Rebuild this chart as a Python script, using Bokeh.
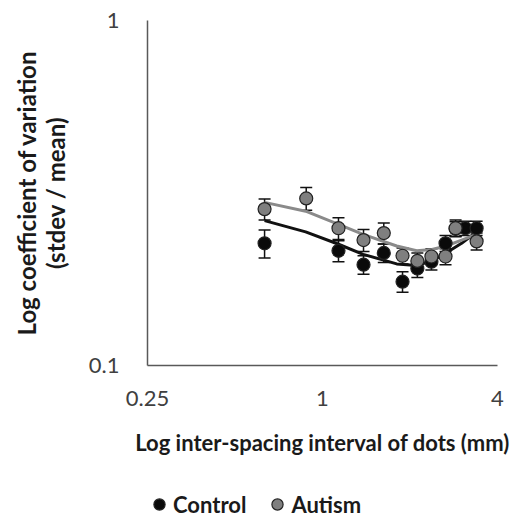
from bokeh.plotting import figure
from bokeh.layouts import column
from bokeh.models import ColumnDataSource, Whisker, Legend, LegendItem, FixedTicker, Range1d
from bokeh.embed import file_html
from bokeh.resources import INLINE

# ---- data ----
autism_x = [0.632, 0.879, 1.135, 1.384, 1.625, 1.885, 2.12, 2.37, 2.65, 2.87, 3.39]
autism_y = [0.284, 0.305, 0.250, 0.231, 0.242, 0.208, 0.201, 0.207, 0.207, 0.250, 0.229]
autism_err = [0.020, 0.023, 0.018, 0.017, 0.017, 0.011, 0.011, 0.011, 0.011, 0.014, 0.013]

control_x = [0.632, 1.135, 1.384, 1.625, 1.885, 2.12, 2.37, 2.65, 2.87, 3.10, 3.39]
control_y = [0.226, 0.215, 0.196, 0.212, 0.175, 0.191, 0.200, 0.226, 0.249, 0.250, 0.250]
control_err = [0.021, 0.015, 0.012, 0.013, 0.012, 0.011, 0.011, 0.012, 0.012, 0.012, 0.012]

# trend lines
trend_x = [0.632, 0.875, 1.13, 1.38, 1.80, 2.11, 2.38, 2.66, 3.01, 3.39]
autism_trend = [0.297, 0.280, 0.257, 0.240, 0.222, 0.215, 0.217, 0.222, 0.231, 0.240]
control_trend = [0.263, 0.244, 0.225, 0.210, 0.197, 0.195, 0.201, 0.212, 0.226, 0.244]

x_ticks = [0.25, 1, 4]
x_tick_labels = ["0.25", "1", "4"]
y_ticks = [0.1, 1]
y_tick_labels = ["0.1", "1"]
series_names = ["Control", "Autism"]

FONT = "Lato"
CONTROL_FILL = "#0a0a0a"
AUTISM_FILL = "#7f7f7f"

p = figure(width=515, height=458, x_axis_type="log", y_axis_type="log",
           x_range=Range1d(0.25, 4), y_range=Range1d(0.1, 1),
           output_backend="svg", toolbar_location=None,
           min_border_left=147, min_border_right=18, min_border_top=20, min_border_bottom=93)
p.outline_line_color = None
p.grid.visible = False
p.background_fill_color = "white"

for ax, ticks, labels in ((p.xaxis[0], x_ticks, x_tick_labels), (p.yaxis[0], y_ticks, y_tick_labels)):
    ax.ticker = FixedTicker(ticks=ticks, minor_ticks=[])
    ax.major_label_overrides = {t: l for t, l in zip(ticks, labels)}
    ax.major_tick_line_color = None
    ax.minor_tick_line_color = None
    ax.axis_line_color = "#595959"
    ax.axis_line_width = 1.5
    ax.major_label_text_font = FONT
    ax.major_label_text_font_size = "22px"
    ax.major_label_text_color = "#404040"
    ax.axis_label_text_font = FONT
    ax.axis_label_text_font_style = "bold"
    ax.axis_label_text_color = "#1a1a1a"

p.xaxis.axis_label = "Log inter-spacing interval of dots (mm)"
p.xaxis.axis_label_text_font_size = "22px"
p.xaxis.major_label_standoff = 19
p.xaxis.axis_label_standoff = 20
p.yaxis.axis_label = "Log coefficient of variation\n(stdev / mean)"
p.yaxis.axis_label_text_font_size = "24px"
p.yaxis.axis_label_text_line_height = 1.0
p.yaxis.major_label_standoff = 22
p.yaxis.axis_label_standoff = 16

# trend lines
p.line(trend_x, control_trend, line_color="#111111", line_width=3)
p.line(trend_x, autism_trend, line_color="#8a8a8a", line_width=3)

def add_series(xs, ys, errs, fill):
    src = ColumnDataSource(dict(x=xs, y=ys,
                                lo=[v - e for v, e in zip(ys, errs)],
                                hi=[v + e for v, e in zip(ys, errs)]))
    w = Whisker(source=src, base="x", lower="lo", upper="hi",
                line_color="#111111", line_width=1.5)
    for h in (w.upper_head, w.lower_head):
        h.size = 12
        h.line_color = "#111111"
        h.line_width = 1.5
    p.add_layout(w)
    p.scatter("x", "y", source=src, size=13, fill_color=fill,
              line_color="#222222", line_width=1.2)

add_series(control_x, control_y, control_err, CONTROL_FILL)
add_series(autism_x, autism_y, autism_err, AUTISM_FILL)

# legend strip below the chart (its renderers reuse one data point, kept off-frame)
lg = figure(width=515, height=58, x_range=Range1d(10, 11), y_range=Range1d(10, 11),
            output_backend="svg", toolbar_location=None,
            min_border_left=147, min_border_right=18, min_border_top=0, min_border_bottom=0)
lg.axis.visible = False
lg.grid.visible = False
lg.outline_line_color = None
rc = lg.scatter(x=control_x[:1], y=control_y[:1], size=13, fill_color=CONTROL_FILL,
                line_color="#222222", line_width=1.2)
ra = lg.scatter(x=autism_x[:1], y=autism_y[:1], size=13, fill_color=AUTISM_FILL,
                line_color="#222222", line_width=1.2)
legend = Legend(items=[LegendItem(label=series_names[0], renderers=[rc]),
                       LegendItem(label=series_names[1], renderers=[ra])],
                orientation="horizontal", location=(-2, -2),
                label_text_font=FONT, label_text_font_style="bold",
                label_text_font_size="22px", label_text_color="#1a1a1a",
                border_line_color=None, background_fill_alpha=0,
                glyph_width=28, glyph_height=28, label_standoff=0, spacing=17,
                margin=0, padding=0)
lg.add_layout(legend)

open("out.html", "w").write(file_html(column(p, lg, spacing=0), INLINE))
